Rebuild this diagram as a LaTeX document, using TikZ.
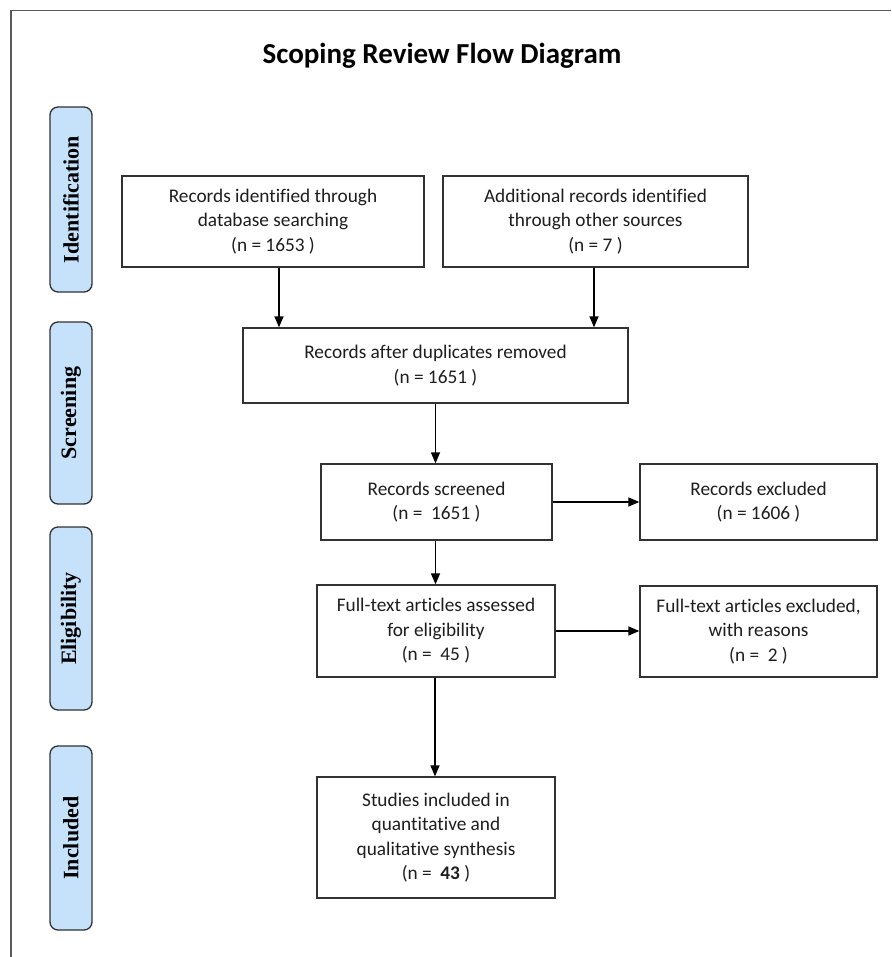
\documentclass[tikz,border=0pt]{standalone}
\usepackage{fontspec}
\setmainfont{Carlito}[Ligatures=NoCommon]
\newfontfamily\labfont{Liberation Serif}
\usetikzlibrary{arrows.meta,calc}
\definecolor{labfill}{RGB}{198,226,250}
\definecolor{edge}{RGB}{50,50,50}
\definecolor{txt}{RGB}{30,30,30}
\definecolor{frame}{RGB}{90,90,90}
\begin{document}
\begin{tikzpicture}[x=1pt,y=-1pt,
  flowbox/.style={draw=edge, line width=1.3pt, fill=white, align=center, text=txt,
    font=\fontsize{19.3}{24.5}\selectfont, inner sep=2pt},
  stagelab/.style={draw=edge, line width=1.3pt, fill=labfill, rounded corners=8pt,
    rotate=90, minimum height=42pt, inner sep=0pt,
    font=\labfont\bfseries\fontsize{22}{24}\selectfont},
  arr/.style={draw=black, line width=1.3pt, -{Triangle[length=11pt,width=9pt]}}]
\useasboundingbox (0,0) rectangle (891,957);
\fill[white] (0,0) rectangle (891,957);
\draw[frame, line width=1.4pt] (11,957) -- (11,10.5) -- (891,10.5);

\node[font=\bfseries\fontsize{29}{32}\selectfont, text=black] (title) at (442,56) {Scoping Review Flow Diagram};

\node[stagelab, minimum width=185pt] (sId) at (71,199.5) {Identification};
\node[stagelab, minimum width=182pt] (sSc) at (71,413) {Screening};
\node[stagelab, minimum width=183pt] (sEl) at (71,618.5) {Eligibility};
\node[stagelab, minimum width=184pt] (sIn) at (71,838) {Included};

\node[flowbox, minimum width=302pt, minimum height=91pt] (A) at (273,221.5)
  {Records identified through\\database searching\\(n = 1653 )};
\node[flowbox, minimum width=305pt, minimum height=91pt] (B) at (595.5,221.5)
  {Additional records identified\\through other sources\\(n = 7 )};
\node[flowbox, minimum width=385pt, minimum height=75pt] (C) at (435.5,365.5)
  {Records after duplicates removed\\(n = 1651 )};
\node[flowbox, minimum width=231pt, minimum height=76pt] (D) at (436.5,502)
  {Records screened\\(n = \ 1651 )};
\node[flowbox, minimum width=237pt, minimum height=76pt] (E) at (758.5,502)
  {Records excluded\\(n = 1606 )};
\node[flowbox, minimum width=238pt, minimum height=92pt] (F) at (436,631)
  {Full-text articles assessed\\for eligibility\\(n = \ 45 )};
\node[flowbox, minimum width=237pt, minimum height=91pt] (F2) at (758.5,631.5)
  {Full-text articles excluded,\\with reasons\\(n = \ 2 )};
\node[flowbox, minimum width=238pt, minimum height=121pt] (G) at (436,837.5)
  {Studies included in\\quantitative and\\qualitative synthesis\\(n = \ \textbf{43} )};

\draw[arr] ([xshift=6pt]A.south) -- ([xshift=6pt]A.south |- C.north);
\draw[arr] ([xshift=-1.5pt]B.south) -- ([xshift=-1.5pt]B.south |- C.north);
\draw[arr] (C.south) -- (C.south |- D.north);
\draw[arr] (D.east) -- (E.west);
\draw[arr] ([xshift=-1pt]D.south) -- ([xshift=-1pt]D.south |- F.north);
\draw[arr] (F.east) -- (F.east -| F2.west);
\draw[arr] ([xshift=-1pt]F.south) -- ([xshift=-1pt]F.south |- G.north);
\end{tikzpicture}
\end{document}
